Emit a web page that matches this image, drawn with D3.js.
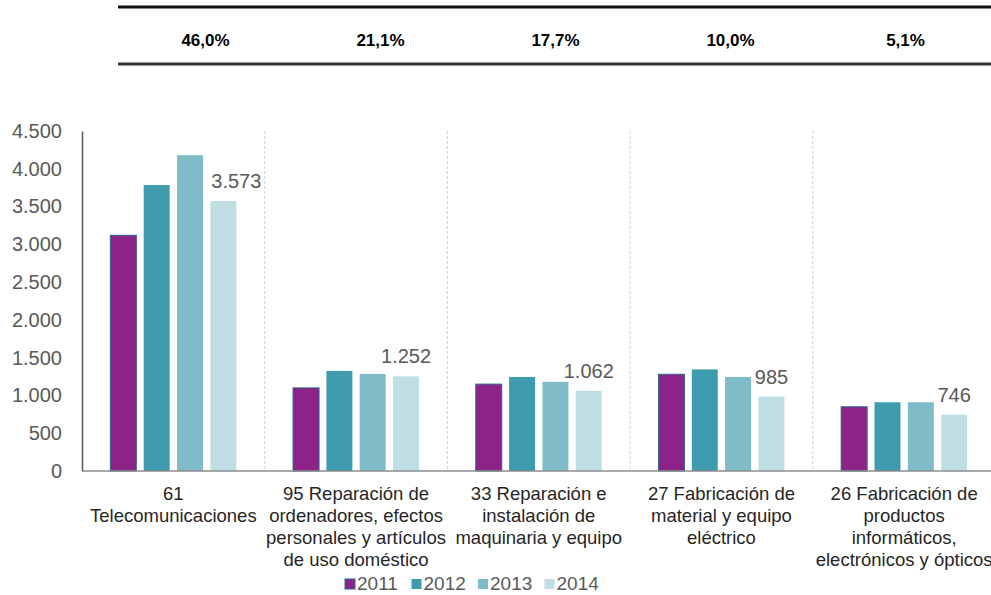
<!DOCTYPE html>
<html>
<head>
<meta charset="utf-8">
<script src="https://cdn.jsdelivr.net/npm/d3@7"></script>
<style>
  body { margin: 0; background: #fff; }
  svg { display: block; font-family: "Liberation Sans", Arial, sans-serif; }
</style>
</head>
<body>
<div id="chart"></div>
<script>
var categories = ["61", "95", "33", "27", "26"];
var catLabels = [
  ["61", "Telecomunicaciones"],
  ["95 Reparación de", "ordenadores, efectos", "personales y artículos", "de uso doméstico"],
  ["33 Reparación e", "instalación de", "maquinaria y equipo"],
  ["27 Fabricación de", "material y equipo", "eléctrico"],
  ["26 Fabricación de", "productos", "informáticos,", "electrónicos y ópticos"]
];
var shares = ["46,0%", "21,1%", "17,7%", "10,0%", "5,1%"];
var years = ["2011", "2012", "2013", "2014"];
var v2011 = [3120, 1100, 1150, 1280, 850];
var v2012 = [3785, 1325, 1245, 1345, 910];
var v2013 = [4180, 1285, 1180, 1245, 910];
var v2014 = [3573, 1252, 1062, 985, 746];
var yTicks = [0, 500, 1000, 1500, 2000, 2500, 3000, 3500, 4000, 4500];
var colors = ["#8B2389", "#3F9CAE", "#80BCC8", "#C0DFE4"];

var series = [v2011, v2012, v2013, v2014];
var W = 991, H = 595;
var fmt = function(v) { return d3.format(",")(v).replace(/,/g, "."); };

var svg = d3.select("#chart").append("svg")
  .attr("width", W).attr("height", H);

// header table with shares
var tx = d3.scaleBand().domain(categories).range([118, 993]);
svg.append("line").attr("x1", 118).attr("x2", W).attr("y1", 7).attr("y2", 7)
  .style("stroke", "#111").style("stroke-width", 3);
svg.append("line").attr("x1", 118).attr("x2", W).attr("y1", 64).attr("y2", 64)
  .style("stroke", "#333").style("stroke-width", 3);
svg.selectAll(".share").data(shares).enter().append("text")
  .attr("x", function(d, i) { return tx(categories[i]) + tx.bandwidth() / 2; })
  .attr("y", 46)
  .attr("text-anchor", "middle")
  .style("font-weight", "bold").style("font-size", "17px").style("fill", "#000")
  .text(function(d) { return d; });

// chart
var left = 82, topY = 131, bottom = 471;
var x0 = d3.scaleBand().domain(categories).range([left, left + 5 * 182.7]);
var x1 = d3.scaleBand().domain(years).range([0, 126]).paddingInner(0.22);
var y = d3.scaleLinear().domain([0, 4500]).range([bottom, topY]);
var groupOff = (x0.bandwidth() - 126) / 2;

// dashed dividers
svg.selectAll(".div").data(categories.slice(1)).enter().append("line")
  .attr("x1", function(d) { return x0(d); }).attr("x2", function(d) { return x0(d); })
  .attr("y1", topY).attr("y2", bottom)
  .style("stroke", "#cfcfcf").style("stroke-dasharray", "3,2").style("stroke-width", 1);

var yAxis = svg.append("g").attr("transform", "translate(" + left + ",0)")
  .call(d3.axisLeft(y).tickValues(yTicks).tickSize(0).tickPadding(20).tickFormat(fmt));
yAxis.select(".domain").style("stroke", "#595959").style("stroke-width", 1.5);
yAxis.selectAll("text").style("font-size", "20px").style("fill", "#595959")
  .style("font-family", "'Liberation Sans', Arial, sans-serif");

var groups = svg.selectAll(".grp").data(categories).enter().append("g")
  .attr("transform", function(d) { return "translate(" + (x0(d) + groupOff) + ",0)"; });

groups.selectAll("rect").data(function(d, i) {
    return years.map(function(yr, j) { return { yr: yr, j: j, v: series[j][i] }; });
  }).enter().append("rect")
  .attr("x", function(d) { return x1(d.yr); })
  .attr("y", function(d) { return y(d.v); })
  .attr("width", x1.bandwidth())
  .attr("height", function(d) { return bottom - y(d.v); })
  .style("fill", function(d) { return colors[d.j]; })
  .style("stroke", function(d) { return d.j === 0 ? "#2c6a86" : "none"; })
  .style("stroke-width", 1);

// value labels on 2014
groups.append("text")
  .attr("x", function(d, i) { return x1("2014") + x1.bandwidth() / 2 + (i === 0 ? 13 : 0); })
  .attr("y", function(d, i) { return y(v2014[i]) - 13; })
  .attr("text-anchor", "middle")
  .style("font-size", "20px").style("fill", "#595959")
  .text(function(d, i) { return fmt(v2014[i]); });

// baseline
svg.append("line").attr("x1", left).attr("x2", W).attr("y1", bottom).attr("y2", bottom)
  .style("stroke", "#8c8c8c").style("stroke-width", 1.5);

// category labels
var xl = svg.selectAll(".xl").data(catLabels).enter().append("text")
  .attr("text-anchor", "middle")
  .style("font-size", "18.5px").style("fill", "#262626");
xl.selectAll("tspan").data(function(d, i) {
    return d.map(function(s) { return { s: s, c: categories[i] }; });
  }).enter().append("tspan")
  .attr("x", function(d) { return x0(d.c) + x0.bandwidth() / 2; })
  .attr("y", function(d, k) { return 500 + k * 22; })
  .text(function(d) { return d.s; });

// legend
var lg = svg.selectAll(".lg").data(years).enter().append("g")
  .attr("transform", function(d, i) { return "translate(" + (345 + i * 66.5) + ",579)"; });
lg.append("rect").attr("width", 10).attr("height", 10)
  .style("fill", function(d, i) { return colors[i]; })
  .style("stroke", function(d, i) { return i === 0 ? "#2c6a86" : "none"; });
lg.append("text").attr("x", 12).attr("y", 11)
  .style("font-size", "19px").style("fill", "#595959")
  .text(function(d) { return d; });
</script>
</body>
</html>
